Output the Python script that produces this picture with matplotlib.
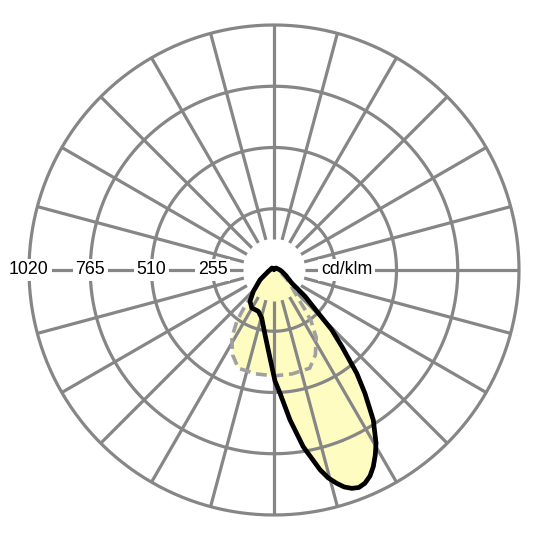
import numpy as np
import matplotlib
matplotlib.use("Agg")
import matplotlib.pyplot as plt

plt.rcParams['font.family'] = ['Liberation Sans', 'DejaVu Sans']

# polar intensity data, gamma in degrees (0 = straight down, + = right), values in cd/klm
c0_gamma = [-180, -135, -90, -77, -55, -44, -37.5, -30.4, -20.8, -14.4, -7.9, -2.6,
            0.5, 2.8, 6.1, 9.4, 13.0, 14.6, 16.4, 17.9, 19.6, 21.3, 23.1, 25.0, 26.8,
            28.7, 30.5, 33.5, 36.4, 38.7, 41.6, 44.0, 45.8, 49.7, 53.7, 65, 80, 90, 135, 180]
c0_value = [4, 12, 17, 24, 71, 124, 164, 183, 184, 206, 272, 367,
            462, 514, 628, 746, 854, 894, 926, 949, 965, 972, 965, 946, 917,
            878, 837, 749, 638, 551, 425, 346, 257, 169, 91, 55, 33, 25, 12, 4]

c90_gamma = [-180, -135, -90, -77, -65, -55, -50, -45, -40, -38, -36, -32, -26, -20, -10,
             0, 10, 20, 26, 32, 36, 38, 40, 45, 50, 55, 65, 77, 90, 135, 180]
c90_value = [4, 6, 14, 20, 35, 62, 85, 110, 160, 210, 262, 332, 393, 435, 439,
             441, 439, 435, 393, 332, 262, 210, 160, 110, 85, 62, 35, 20, 14, 6, 4]

ring_values = [255, 510, 765, 1020]
ring_labels = ["255", "510", "765", "1020"]
unit_label = "cd/klm"

grid_col = "#868686"
fill_col = "#fffcc2"

fig = plt.figure(figsize=(5.4, 5.4), dpi=100)
rmax = 1020 * 250 / 245
ax = fig.add_axes([0.04444, 0.03704, 0.92593, 0.92593], projection="polar")
ax.set_theta_zero_location("S")
ax.set_theta_direction(1)
ax.set_axis_off()

t0 = np.radians(c0_gamma)
t90 = np.radians(c90_gamma)

# fills under the grid
ax.fill(t90, c90_value, color=fill_col, lw=0, zorder=1)
ax.fill(t0, c0_value, color=fill_col, lw=0, zorder=1.1)

# grid: rings and spokes every 15 deg
circ = np.linspace(0, 2 * np.pi, 361)
for rv in ring_values:
    ax.plot(circ, np.full_like(circ, rv), color=grid_col, lw=2.3, zorder=2,
            solid_capstyle="butt")
for a in np.radians(np.arange(0, 360, 15)):
    ax.plot([a, a], [130, 1020], color=grid_col, lw=2.3, zorder=2,
            solid_capstyle="butt")

# curves
ax.plot(t90, c90_value, color="#a0a0a0", lw=2.6, ls=(0, (3, 1.6)), zorder=3)
ax.plot(t0, c0_value, color="black", lw=3.4, zorder=4, solid_joinstyle="round")

# scale labels along the left horizontal
box = dict(boxstyle="square,pad=0.15", fc="white", ec="none")
for rv, lab in zip(ring_values, ring_labels):
    ax.text(np.radians(-90), rv, lab, ha="center", va="center", fontsize=12.8,
            bbox=box, zorder=6)
ax.text(np.radians(90), 196, unit_label, ha="left", va="center", fontsize=12.8,
        bbox=box, zorder=6)

ax.set_ylim(0, rmax)
fig.savefig("out.png", dpi=100, facecolor="white")
